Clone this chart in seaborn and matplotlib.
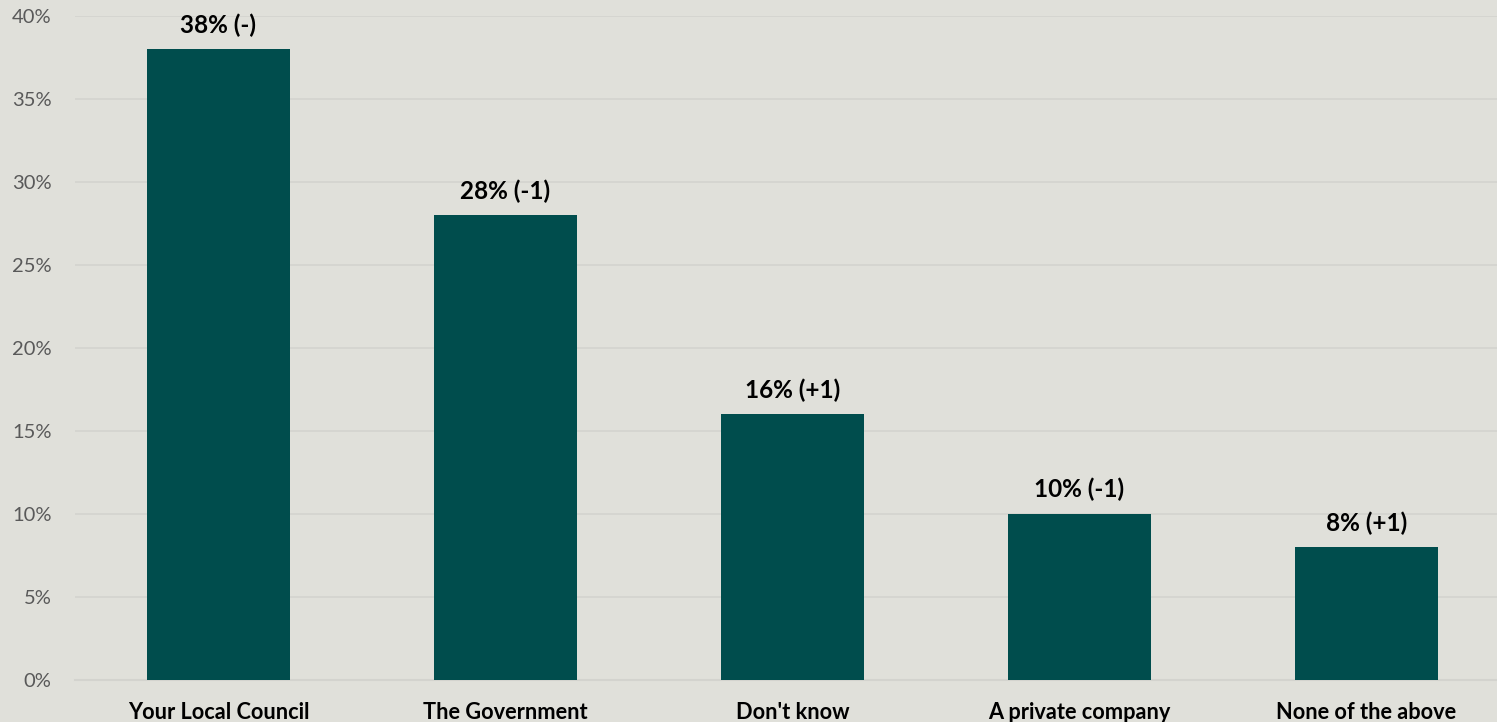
import matplotlib
matplotlib.use("Agg")
import matplotlib.pyplot as plt
import seaborn as sns
import pandas as pd
from matplotlib.ticker import FixedLocator, PercentFormatter

categories = ["Your Local Council", "The Government", "Don't know", "A private company", "None of the above"]
values = [38, 28, 16, 10, 8]
changes = ["(-)", "(-1)", "(+1)", "(-1)", "(+1)"]
yticks = [0, 5, 10, 15, 20, 25, 30, 35, 40]

BG = "#E0E0DA"
BAR = "#004D4D"
GRID = "#D3D3CE"

sns.set_theme(style="white")
plt.rcParams['font.family'] = ['Lato', 'DejaVu Sans']

df = pd.DataFrame({"category": categories, "value": values})

fig = plt.figure(figsize=(14.97, 7.22), dpi=100, facecolor=BG)
ax = fig.add_axes([75/1497, 1-680/722, 1435/1497, (680-16)/722])
ax.set_facecolor(BG)

sns.barplot(data=df, x="category", y="value", color=BAR, width=0.5, saturation=1,
            linewidth=0, edgecolor=BAR, ax=ax, zorder=3)

ax.set_ylim(0, 40)
ax.set_xlim(-0.5, len(categories) - 0.5)
ax.set_yticks(yticks)
ax.yaxis.set_major_formatter(PercentFormatter(decimals=0))
ax.grid(axis="y", color=GRID, linewidth=1.2, zorder=0)
ax.set_axisbelow(True)
for s in ["left", "right", "top"]:
    ax.spines[s].set_visible(False)
ax.spines["bottom"].set_color(GRID)
ax.spines["bottom"].set_linewidth(1.5)

ax.set_xlabel("")
ax.set_ylabel("")
ax.tick_params(axis="y", length=0, pad=17, labelsize=14.5, labelcolor="#595959")
ax.tick_params(axis="x", which="major", length=0, pad=15.5, labelsize=15.7)
for lbl in ax.get_xticklabels():
    lbl.set_fontweight("bold")
    lbl.set_color("black")
ax.xaxis.set_minor_locator(FixedLocator([i - 0.5 for i in range(len(categories) + 1)]))
ax.tick_params(axis="x", which="minor", length=6, width=1.5, color=GRID, direction="out")

for i, (v, c) in enumerate(zip(values, changes)):
    ax.annotate(f"{v}% {c}", xy=(i, v), xytext=(0, 9), textcoords="offset points",
                ha="center", va="bottom", fontsize=17.5, fontweight="bold", color="black")

fig.savefig("out.png", dpi=100, facecolor=BG)
